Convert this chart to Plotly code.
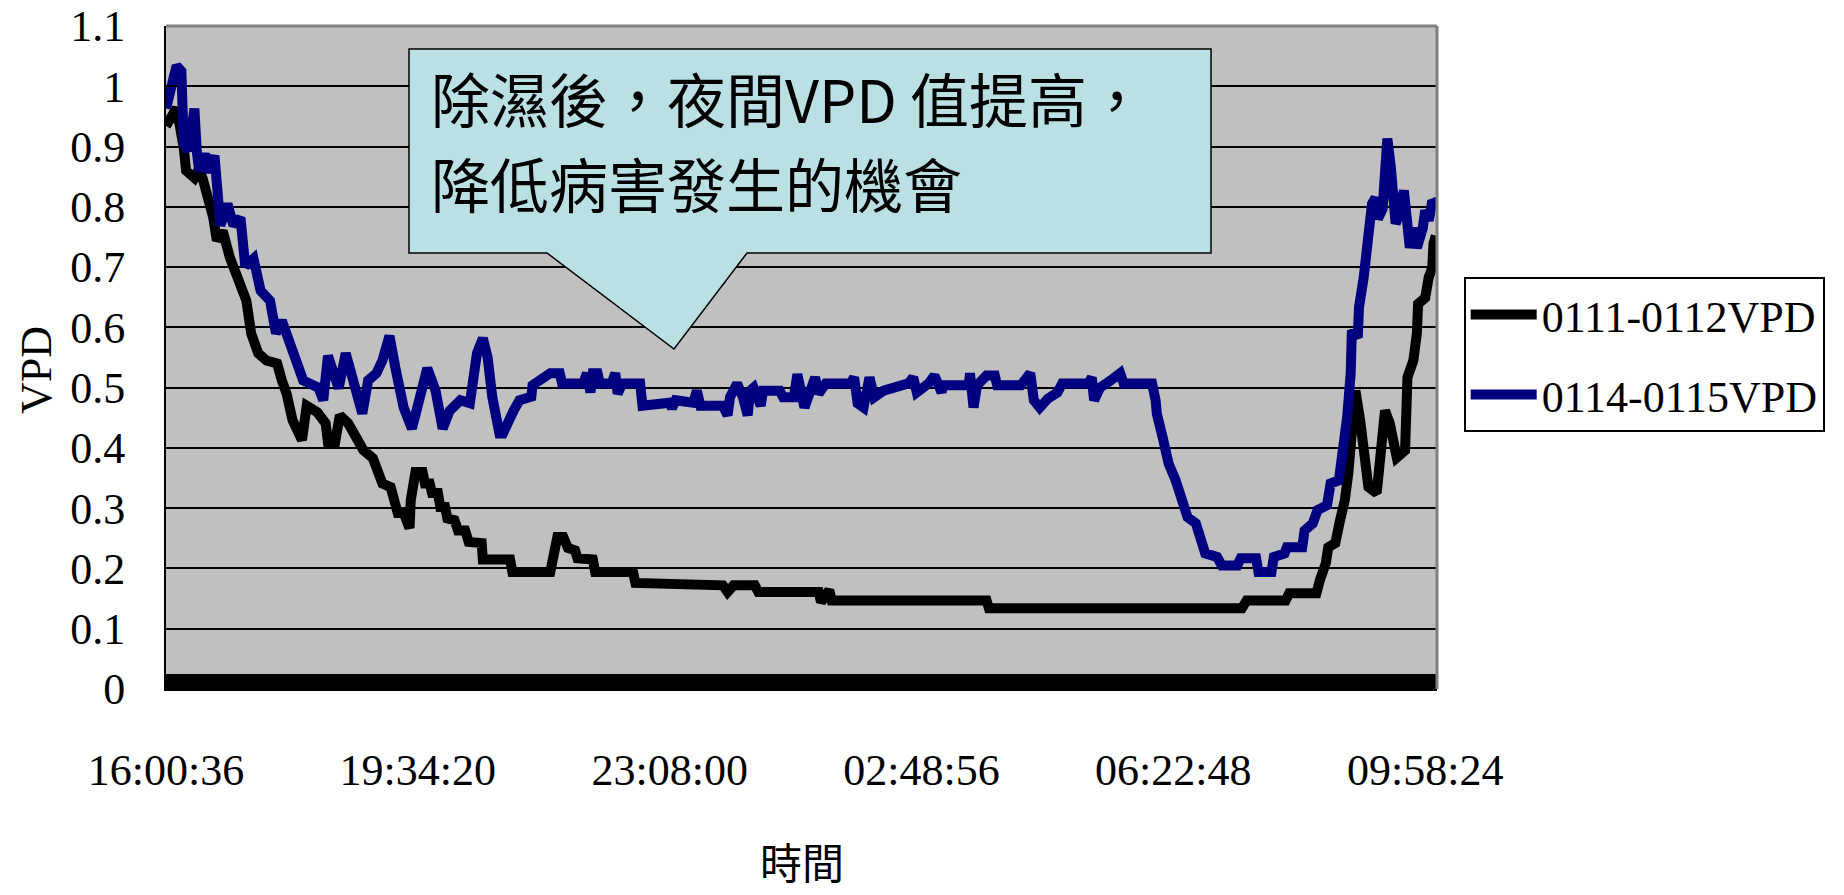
import plotly.graph_objects as go

# ---------------- data ----------------
tick_labels = ["16:00:36", "19:34:20", "23:08:00", "02:48:56", "06:22:48", "09:58:24"]
label_step = 213          # samples between two labelled categories
n_samples = 1076          # number of categories on the time axis

series_names = ["0111-0112VPD", "0114-0115VPD"]

black_x = [0, 3, 9, 15, 17, 24, 28, 31, 35, 40, 43, 48, 54, 61, 68, 72, 78, 85, 94, 98,
           102, 107, 115, 119, 128, 135, 137, 143, 147, 154, 160, 167, 175, 179, 183, 190,
           192, 196, 201, 206, 207, 211, 217, 219, 223, 225, 230, 232, 236, 238, 244, 247,
           253, 256, 267, 268, 291, 293, 325, 331, 336, 340, 346, 348, 361, 363, 395, 397,
           471, 475, 480, 498, 501, 552, 554, 561, 563, 694, 696, 910, 914, 947, 950, 973,
           976, 981, 983, 989, 993, 997, 1000, 1003, 1006, 1010, 1013, 1017, 1024, 1027,
           1031, 1035, 1041, 1048, 1050, 1055, 1058, 1059, 1065, 1068, 1071, 1072, 1074]
black_y = [0.934, 0.946, 0.964, 0.898, 0.860, 0.848, 0.863, 0.847, 0.822, 0.782, 0.744,
           0.760, 0.716, 0.683, 0.644, 0.590, 0.557, 0.545, 0.540, 0.512, 0.490, 0.446,
           0.413, 0.470, 0.459, 0.441, 0.409, 0.409, 0.454, 0.441, 0.417, 0.396, 0.383,
           0.363, 0.341, 0.335, 0.313, 0.292, 0.292, 0.267, 0.313, 0.360, 0.360, 0.341,
           0.341, 0.325, 0.325, 0.302, 0.302, 0.283, 0.280, 0.263, 0.263, 0.244, 0.242,
           0.215, 0.215, 0.194, 0.194, 0.252, 0.252, 0.234, 0.230, 0.217, 0.215, 0.194,
           0.194, 0.176, 0.172, 0.161, 0.172, 0.172, 0.161, 0.161, 0.144, 0.164, 0.147,
           0.147, 0.134, 0.134, 0.147, 0.147, 0.159, 0.159, 0.181, 0.209, 0.235, 0.242,
           0.280, 0.313, 0.358, 0.424, 0.495, 0.446, 0.391, 0.335, 0.325, 0.396, 0.462,
           0.441, 0.384, 0.396, 0.517, 0.545, 0.590, 0.639, 0.649, 0.683, 0.699, 0.739, 0.752]

blue_x = [0, 5, 9, 13, 15, 19, 24, 26, 28, 33, 36, 41, 46, 52, 57, 63, 67, 74, 80, 88,
          93, 98, 103, 109, 116, 129, 133, 137, 142, 146, 152, 158, 166, 171, 178, 183, 189,
          194, 201, 208, 215, 221, 228, 234, 240, 249, 257, 263, 268, 272, 276, 282, 285,
          289, 294, 299, 309, 310, 321, 325, 333, 335, 353, 356, 359, 361, 365, 367, 377,
          380, 382, 386, 401, 403, 426, 428, 431, 446, 449, 452, 471, 475, 477, 483, 488,
          492, 494, 497, 503, 505, 519, 522, 531, 534, 540, 544, 549, 552, 558, 579, 582,
          585, 590, 595, 599, 607, 628, 632, 635, 645, 650, 656, 657, 679, 680, 683, 686,
          694, 701, 703, 723, 731, 734, 739, 746, 754, 758, 780, 783, 785, 790, 799, 807,
          810, 834, 837, 838, 843, 848, 854, 859, 864, 871, 875, 879, 889, 893, 906, 909,
          922, 924, 935, 937, 946, 948, 961, 963, 970, 974, 982, 985, 992, 995, 999, 1002,
          1003, 1008, 1009, 1013, 1017, 1020, 1023, 1025, 1029, 1030, 1033, 1036, 1040,
          1042, 1047, 1049, 1052, 1055, 1058, 1063, 1065, 1068, 1071, 1074]
blue_y = [0.963, 0.996, 1.034, 1.025, 0.905, 0.893, 0.963, 0.893, 0.860, 0.888, 0.857,
          0.885, 0.769, 0.805, 0.769, 0.782, 0.702, 0.714, 0.661, 0.644, 0.590, 0.611,
          0.586, 0.545, 0.512, 0.500, 0.479, 0.553, 0.515, 0.499, 0.557, 0.515, 0.457,
          0.512, 0.524, 0.545, 0.586, 0.533, 0.467, 0.432, 0.479, 0.532, 0.495, 0.432,
          0.462, 0.479, 0.474, 0.557, 0.582, 0.550, 0.484, 0.424, 0.424, 0.446, 0.462,
          0.479, 0.485, 0.504, 0.517, 0.524, 0.524, 0.507, 0.507, 0.524, 0.492, 0.524,
          0.524, 0.507, 0.507, 0.524, 0.490, 0.507, 0.507, 0.470, 0.475, 0.466, 0.479,
          0.475, 0.495, 0.470, 0.470, 0.454, 0.484, 0.507, 0.484, 0.454, 0.495, 0.500,
          0.470, 0.495, 0.495, 0.484, 0.484, 0.522, 0.467, 0.490, 0.517, 0.490, 0.507,
          0.507, 0.517, 0.474, 0.467, 0.517, 0.484, 0.495, 0.507, 0.517, 0.492, 0.507,
          0.520, 0.492, 0.504, 0.504, 0.524, 0.467, 0.504, 0.520, 0.520, 0.504, 0.504,
          0.524, 0.479, 0.467, 0.482, 0.492, 0.507, 0.507, 0.517, 0.479, 0.500, 0.512,
          0.524, 0.507, 0.507, 0.479, 0.457, 0.417, 0.374, 0.346, 0.313, 0.285, 0.275,
          0.252, 0.225, 0.219, 0.205, 0.205, 0.217, 0.217, 0.194, 0.194, 0.219, 0.225,
          0.235, 0.235, 0.263, 0.275, 0.297, 0.305, 0.341, 0.346, 0.384, 0.451, 0.524,
          0.595, 0.583, 0.633, 0.683, 0.744, 0.805, 0.815, 0.780, 0.797, 0.848, 0.913,
          0.865, 0.772, 0.782, 0.827, 0.789, 0.732, 0.765, 0.732, 0.765, 0.794, 0.777,
          0.810, 0.805]

callout_lines = ["除濕後，夜間VPD 值提高，", "降低病害發生的機會"]
x_title = "時間"
y_title = "VPD"

# ---------------- figure ----------------
SERIF = "Liberation Serif, Times New Roman, serif"
CJK = "Noto Sans CJK TC, Noto Sans CJK SC, sans-serif"

fig = go.Figure()
fig.add_trace(go.Scatter(x=black_x, y=black_y, mode="lines", name=series_names[0],
                         legendgroup="a",
                         line=dict(color="#000000", width=10)))
fig.add_trace(go.Scatter(x=blue_x, y=blue_y, mode="lines", name=series_names[1],
                         legendgroup="b",
                         line=dict(color="#000080", width=10)))

tick_vals = [i * label_step for i in range(len(tick_labels))]

fig.update_layout(
    width=1844, height=895,
    margin=dict(l=166, r=407, t=26, b=206, autoexpand=False),
    paper_bgcolor="white",
    plot_bgcolor="#C0C0C0",
    showlegend=True,
    legend=dict(
        x=1.021, y=0.621, xanchor="left", yanchor="top",
        bgcolor="white", bordercolor="black", borderwidth=2,
        font=dict(family=SERIF, size=44, color="black"),
        itemwidth=66, tracegroupgap=20,
    ),
    xaxis=dict(
        automargin=False,
        range=[0, n_samples - 1],
        tickmode="array", tickvals=tick_vals, ticktext=tick_labels,
        ticks="inside", ticklen=15, tickwidth=2, tickcolor="black",
        minor=dict(ticks="inside", ticklen=15, dtick=1, tick0=0,
                   tickwidth=2, tickcolor="black", showgrid=False),
        showgrid=False, zeroline=False,
        showline=True, linecolor="black", linewidth=2,
        tickfont=dict(family=SERIF, size=44, color="black"),
        ticklabelstandoff=41, ticklabeloverflow="allow",
    ),
    yaxis=dict(
        automargin=False,
        range=[0, 1.1], dtick=0.1, tick0=0,
        ticks="inside", ticklen=12, tickwidth=2, tickcolor="black",
        showgrid=True, gridcolor="black", gridwidth=2,
        zeroline=False,
        showline=True, linecolor="black", linewidth=2,
        tickfont=dict(family=SERIF, size=44, color="black"),
        ticklabelstandoff=30, ticklabeloverflow="allow",
    ),
    shapes=[
        # gray plot-area border (top and right)
        dict(type="line", xref="paper", yref="paper", x0=0, x1=1, y0=1, y1=1,
             line=dict(color="#808080", width=3), layer="above"),
        dict(type="line", xref="paper", yref="paper", x0=1, x1=1, y0=0, y1=1,
             line=dict(color="#808080", width=3), layer="above"),
        # callout bubble
        dict(type="path", xref="paper", yref="paper",
             path="M 0.1912 0.6576 L 0.1912 0.9653 L 0.8222 0.9653 L 0.8222 0.6576 "
                  "L 0.4571 0.6576 L 0.3997 0.5128 L 0.2998 0.6576 Z",
             fillcolor="#BBE0E3", line=dict(color="black", width=1.5), layer="above"),
    ],
    annotations=[
        dict(text=callout_lines[0], xref="paper", yref="paper", x=0.2069, y=0.8929,
             xanchor="left", yanchor="middle", align="left", showarrow=False,
             font=dict(family=CJK, size=59, color="black")),
        dict(text=callout_lines[1], xref="paper", yref="paper", x=0.2069, y=0.7632,
             xanchor="left", yanchor="middle", align="left", showarrow=False,
             font=dict(family=CJK, size=59, color="black")),
        dict(text=x_title, xref="paper", yref="paper", x=0.5, y=-0.258,
             xanchor="center", yanchor="middle", showarrow=False,
             font=dict(family=CJK, size=42, color="black")),
        dict(text=y_title, xref="paper", yref="paper", x=-0.1023, y=0.481,
             xanchor="center", yanchor="middle", textangle=-90, showarrow=False,
             font=dict(family=SERIF, size=44, color="black")),
    ],
)

# remove the default page-body margin so the figure fills the window exactly
fig.write_html("out.html",
               config={"displayModeBar": False},
               post_script="document.body.style.margin='0';"
                           "document.body.style.overflow='hidden';")
